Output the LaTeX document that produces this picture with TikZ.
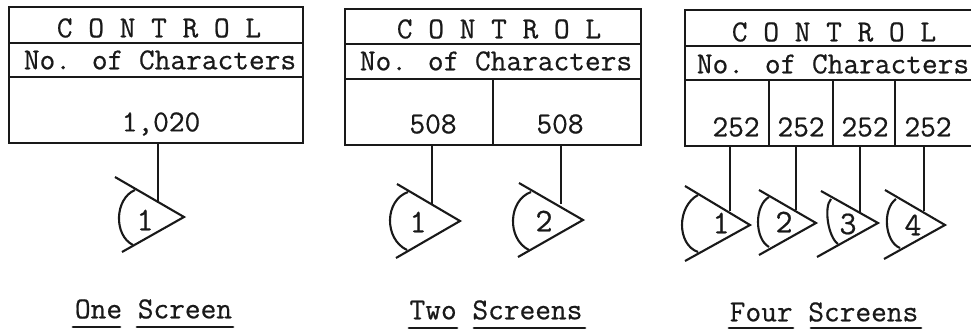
\documentclass[tikz,border=0pt]{standalone}
\usepackage{fontspec}
\newfontfamily\typewriter[FakeBold=0.6]{Latin Modern Mono}
\usetikzlibrary{calc}
\tikzset{
  ink/.style={draw=black!90,line width=2.1pt},
  wire/.style={draw=black!90,line width=2.1pt},
  ruleline/.style={draw=black!90,line width=2.8pt,line cap=round},
  typed/.style={inner sep=0pt,font=\typewriter\fontsize{30.5}{32}\selectfont,text=black!90},
  symbol/.style={inner sep=0pt,font=\typewriter\fontsize{33}{34}\selectfont,text=black!90}
}
% name, tip, upper end, lower end, arc start, arc middle, arc end, label pos, label
\newcommand{\crtscreen}[9]{%
  \coordinate (#1tip) at (#2);
  \coordinate (#1a) at (#5); \coordinate (#1m) at (#6); \coordinate (#1b) at (#7);
  \draw[ink,line join=miter] (#3) -- (#1tip) -- (#4);
  \draw[ink] (#1a) .. controls ($1.3333*(#1m)-0.5*(#1b)+0.1667*(#1a)$) and ($1.3333*(#1m)-0.5*(#1a)+0.1667*(#1b)$) .. (#1b);
  \node[symbol] (#1lab) at (#8) {#9};
}
\begin{document}
\begin{tikzpicture}[x=1pt,y=-1pt]
\useasboundingbox (0,0) rectangle (971,331);
% --- One screen
\draw[ink] (9,7) rectangle (303,143);
\draw[ink] (9,43) -- (303,43) (9,77) -- (303,77);
\node[typed] (a1) at (159,28) {C O N T R O L};
\node[typed] (a2) at (160,60) {No. of Characters};
\node[typed] (a3) at (161,124) {1,020};
\crtscreen{as}{184,217}{115,177}{122,252}{135,190}{119,217}{133,245}{145,220}{1}
\coordinate (aw) at (158,203);
\coordinate (at) at (158,143);
\draw[wire] (at) -- (aw);
\node[typed] (acap) at (153.5,309) {One Screen};
\draw[ruleline] (73,327) -- (120,327) (137,327) -- (233,327);
% --- Two screens
\draw[ink] (345,9) rectangle (641,145);
\draw[ink] (345,44) -- (641,44) (345,79) -- (641,79) (493,79) -- (493,145);
\node[typed] (b1) at (499,29) {C O N T R O L};
\node[typed] (b2) at (496,61) {No. of Characters};
\node[typed] (b3) at (433,124) {508};
\node[typed] (b4) at (560,124) {508};
\crtscreen{bs}{460,221}{397,184}{396,258}{408,192}{390,220}{407,250}{418,222}{1}
\crtscreen{cs}{583,220}{519,183}{518,257}{531,192}{513,220}{529,250}{544,221}{2}
\coordinate (bt) at (432,145); \coordinate (bw) at (432,204);
\coordinate (ct) at (561,145); \coordinate (cw) at (561,204);
\draw[wire] (bt) -- (bw);
\draw[wire] (ct) -- (cw);
\node[typed] (bcap) at (496,310) {Two Screens};
\draw[ruleline] (409,328) -- (457,328) (474,328) -- (585,328);
% --- Four screens
\draw[ink] (971,10) -- (685,10) -- (685,146) -- (971,146);
\draw[ink] (685,46) -- (971,46) (685,80) -- (971,80);
\draw[ink] (769,80) -- (769,146) (833,80) -- (833,146) (895,80) -- (895,146);
\node[typed] (c1) at (834,32) {C O N T R O L};
\node[typed] (c2) at (833,64) {No. of Characters};
\node[typed] (d1) at (736,127) {252};
\node[typed] (d2) at (801,127) {252};
\node[typed] (d3) at (865,127) {252};
\node[typed] (d4) at (928,127) {252};
\crtscreen{ds}{750,225}{685,186}{685,261}{698,195}{682,225}{698,252}{721,223}{1}
\crtscreen{es}{816,223}{759,190}{759,255}{769,197}{758,222}{769,247}{784,222}{2}
\crtscreen{fs}{878,223}{821,191}{817,257}{831,199}{828,222}{838,244}{848,224}{3}
\crtscreen{gs}{945,225}{885,190}{884,259}{896,199}{887,225}{900,248}{913,225}{4}
\coordinate (dt) at (730,146); \coordinate (dw) at (730,211);
\coordinate (et) at (796,146); \coordinate (ew) at (796,210);
\coordinate (ft) at (860,146); \coordinate (fw) at (860,212);
\coordinate (gt) at (924,146); \coordinate (gw) at (924,211);
\draw[wire] (dt) -- (dw);
\draw[wire] (et) -- (ew);
\draw[wire] (ft) -- (fw);
\draw[wire] (gt) -- (gw);
\node[typed] (dcap) at (824,312) {Four Screens};
\draw[ruleline] (729,328) -- (793,328) (811,328) -- (921,328);
\end{tikzpicture}
\end{document}
